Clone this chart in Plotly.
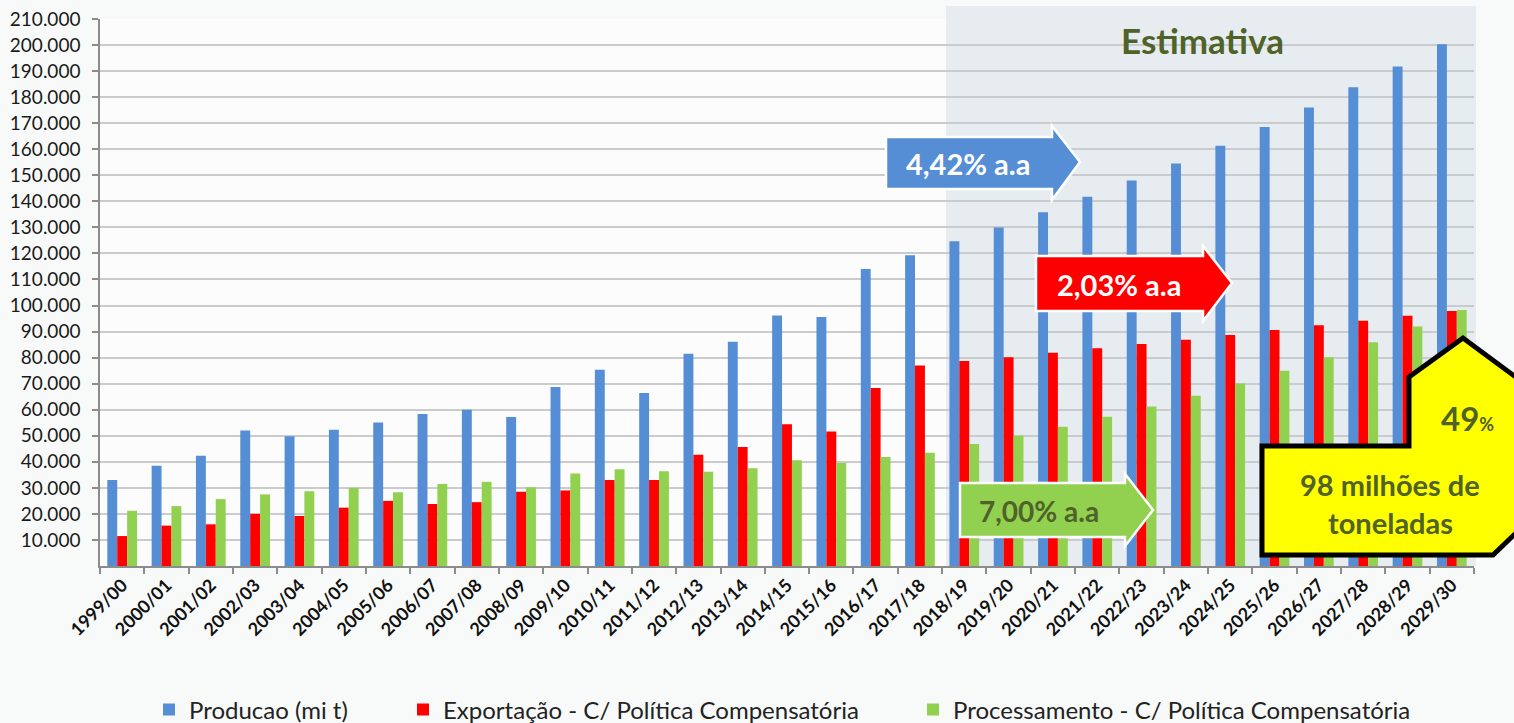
import plotly.graph_objects as go

categories = ["1999/00", "2000/01", "2001/02", "2002/03", "2003/04", "2004/05", "2005/06",
              "2006/07", "2007/08", "2008/09", "2009/10", "2010/11", "2011/12", "2012/13",
              "2013/14", "2014/15", "2015/16", "2016/17", "2017/18", "2018/19", "2019/20",
              "2020/21", "2021/22", "2022/23", "2023/24", "2024/25", "2025/26", "2026/27",
              "2027/28", "2028/29", "2029/30"]

producao = [33000, 38500, 42300, 52000, 49800, 52300, 55100, 58400, 60000, 57200, 68700,
            75300, 66400, 81500, 86100, 96200, 95600, 114000, 119300, 124700, 130000,
            135800, 141800, 148000, 154500, 161300, 168500, 176000, 183800, 191800, 200300]

exportacao = [11500, 15500, 16000, 20000, 19200, 22400, 25000, 23800, 24500, 28500, 29000,
              33000, 33000, 42700, 45700, 54400, 51600, 68300, 77000, 78700, 80100,
              81900, 83600, 85200, 86900, 88700, 90600, 92400, 94200, 96100, 97900]

processamento = [21200, 23000, 25700, 27500, 28700, 30000, 28300, 31500, 32300, 30200, 35500,
                 37100, 36400, 36200, 37500, 40600, 39500, 41800, 43500, 46800, 50000,
                 53500, 57300, 61200, 65400, 70100, 75000, 80100, 85900, 91900, 98300]

y_ticks = list(range(10000, 210001, 10000))

names = ["Producao (mi t)", "Exportação - C/ Política Compensatória",
         "Processamento - C/ Política Compensatória"]
colors = ["#558ED5", "#FF0000", "#92D050"]
legend_ids = ["legend", "legend2", "legend3"]
legend_text_x = [187, 441, 951]

FONT = "Lato"
OLIVE = "#4F6228"

W, H = 1514, 723
L, R, T, B = 100, 1474, 19, 566


def px(x):
    return (x - L) / (R - L)


def py(y):
    return (B - y) / (B - T)


fig = go.Figure()
for name, vals, col, lid in zip(names, [producao, exportacao, processamento], colors, legend_ids):
    fig.add_trace(go.Bar(x=categories, y=vals, name=name, legend=lid,
                         marker=dict(color=col, line=dict(width=0))))


def path(points):
    return "M " + " L ".join(f"{px(x):.5f},{py(y):.5f}" for x, y in points) + " Z"


def arrow(x0, xb, xt, bt, bb, ht, hb, ym):
    return path([(x0, bt), (xb, bt), (xb, ht), (xt, ym), (xb, hb), (xb, bb), (x0, bb)])


shapes = [
    dict(type="rect", xref="paper", yref="paper", x0=px(946), x1=px(1476), y0=py(566), y1=py(6),
         fillcolor="#E6ECF0", line=dict(width=0), layer="below"),
    dict(type="path", xref="paper", yref="paper",
         path=arrow(886, 1052, 1080, 137, 189, 126, 200, 162),
         fillcolor="#558ED5", line=dict(color="white", width=2.5)),
    dict(type="path", xref="paper", yref="paper",
         path=arrow(1036, 1203, 1232, 256, 311, 246, 321, 283),
         fillcolor="#FF0000", line=dict(color="white", width=2.5)),
    dict(type="path", xref="paper", yref="paper",
         path=arrow(960, 1125, 1153, 483, 537, 474, 546, 510),
         fillcolor="#92D050", line=dict(color="white", width=2.5)),
    dict(type="path", xref="paper", yref="paper",
         path=path([(1262, 555), (1262, 446), (1409, 446), (1409, 377), (1463, 338),
                    (1540, 395), (1540, 510), (1493, 555)]),
         fillcolor="#FFFF00", line=dict(color="black", width=5)),
]


def ann(text, x, y, size, color):
    return dict(text=text, x=px(x), y=py(y), xref="paper", yref="paper",
                xanchor="center", yanchor="middle", showarrow=False,
                font=dict(family=FONT, size=size, color=color))


annotations = [
    ann("<b>Estimativa</b>", 1202, 40, 35, OLIVE),
    ann("<b>4,42% a.a</b>", 968, 163, 29, "white"),
    ann("<b>2,03% a.a</b>", 1119, 284, 29, "white"),
    ann("<b>7,00% a.a</b>", 1039, 511, 28, OLIVE),
    ann("<b>49<span style='font-size:18px'>%</span></b>", 1467, 418, 33, OLIVE),
    ann("<b>98 milhões de</b>", 1390, 484, 29, OLIVE),
    ann("<b>toneladas</b>", 1390, 522, 29, OLIVE),
]

legend_common = dict(orientation="h", xanchor="left", y=py(710), yanchor="middle",
                     xref="paper", yref="paper", bgcolor="rgba(0,0,0,0)",
                     font=dict(family=FONT, size=24, color="#222222"), itemwidth=30)

layout_legends = {}
for lid, tx in zip(legend_ids, legend_text_x):
    layout_legends[lid] = dict(legend_common, x=px(tx - 38))

fig.update_layout(
    width=W, height=H,
    margin=dict(l=L, r=W - R, t=T, b=H - B, pad=0, autoexpand=False),
    paper_bgcolor="#F8FAF9",
    plot_bgcolor="#FBFCFB",
    separators=",.",
    barmode="group",
    bargap=0.33,
    bargroupgap=0,
    showlegend=True,
    shapes=shapes,
    annotations=annotations,
    font=dict(family=FONT, color="#222222"),
    **layout_legends,
)

fig.update_xaxes(
    type="category", showgrid=False, showline=True, linecolor="#8C8C8C", linewidth=1.5,
    ticks="outside", tickson="boundaries", ticklen=6, tickcolor="#8C8C8C", tickwidth=1.5,
    tickangle=-45, tickfont=dict(family=FONT, size=18, color="#111111", weight="bold"),
    automargin=False, fixedrange=True,
)

fig.update_yaxes(
    range=[0, 210000], tickvals=y_ticks, tickformat=",d", showgrid=True,
    gridcolor="#C9CBCC", gridwidth=1.5, showline=True, linecolor="#8C8C8C", linewidth=1.5,
    ticks="outside", ticklen=6, tickcolor="#8C8C8C", tickwidth=1.5,
    tickfont=dict(family=FONT, size=19, color="#1A1A1A"), zeroline=False,
    ticklabelstandoff=8, automargin=False, fixedrange=True,
)

fig.write_html("out.html", config={"displayModeBar": False},
               post_script="document.body.style.margin='0px';")
